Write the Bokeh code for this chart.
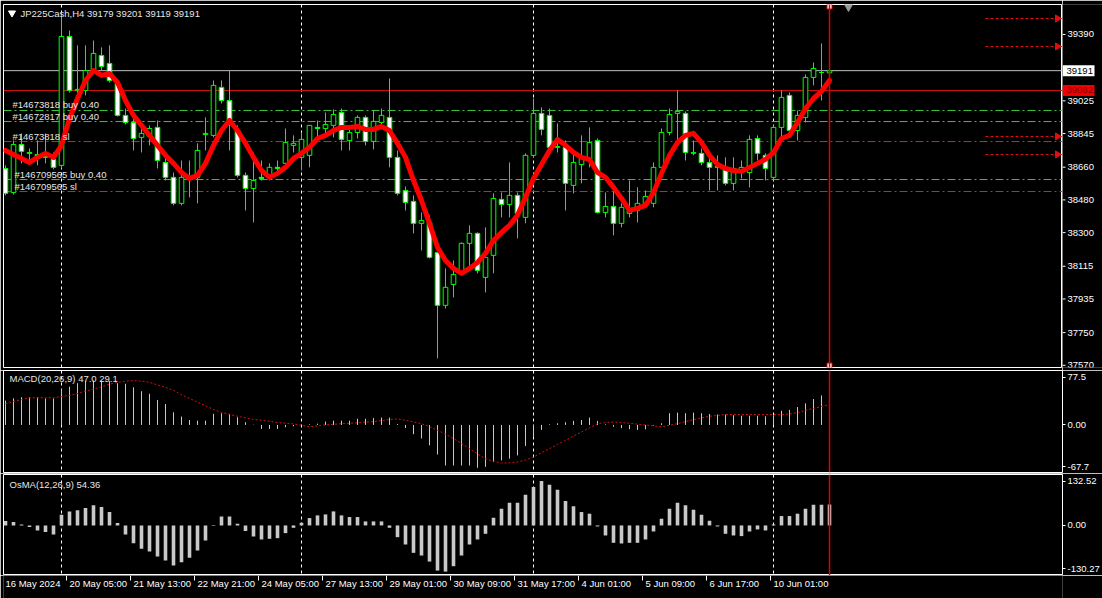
import math
from bokeh.plotting import figure
from bokeh.models import Range1d, FixedTicker, Span, Label, ColumnDataSource
from bokeh.layouts import column, row
from bokeh.embed import file_html
from bokeh.resources import INLINE
from bokeh.core.properties import value

# ---------------- data ----------------
symbol = "JP225Cash"
timeframe = "H4"

open_ = [38653, 38521, 38785, 38741, 38730, 38714, 38703, 38670, 39379, 39082,
         39082, 39192, 39275, 39231, 39121, 38945, 38906, 38824, 38829, 38879,
         38686, 38604, 38461, 38598, 38604, 38840, 38835, 39099, 39027, 38862,
         38615, 38543, 38604, 38604, 38659, 38681, 38780, 38714, 38725, 38879,
         38873, 38890, 38961, 38807, 38851, 38934, 38802, 38906, 38934, 38714,
         38532, 38472, 38351, 38356, 38191, 37900, 38015, 38076, 38241, 38296,
         38054, 38175, 38483, 38455, 38505, 38384, 38725, 38956, 38945, 38769,
         38769, 38560, 38675, 38697, 38807, 38411, 38444, 38351, 38406, 38422,
         38461, 38461, 38659, 38851, 38956, 38956, 38736, 38736, 38686, 38659,
         38653, 38571, 38642, 38631, 38818, 38725, 38604, 38879, 39055, 38862,
         38934, 39154, 39181, 39179]
high = [38670, 38807, 38846, 38763, 38807, 38846, 38741, 39511, 39412, 39330,
        39330, 39357, 39319, 39330, 39137, 38983, 38934, 38901, 38890, 38917,
        38714, 38631, 38697, 38697, 38791, 38934, 39137, 39137, 39192, 38890,
        38631, 38741, 38697, 38681, 38697, 38873, 38835, 38851, 38890, 38917,
        38961, 38978, 38983, 38890, 38945, 38945, 38972, 38983, 39148, 38752,
        38554, 38505, 38411, 38395, 38191, 38103, 38147, 38246, 38340, 38301,
        38329, 38516, 38521, 38686, 38521, 38736, 39038, 38989, 38983, 38901,
        38807, 38752, 38835, 38879, 38818, 38521, 38532, 38461, 38587, 38549,
        38532, 38686, 38873, 38983, 39082, 38967, 38807, 38763, 38714, 38725,
        38714, 38714, 38697, 38835, 38835, 38736, 38890, 39082, 39071, 38972,
        39170, 39236, 39341, 39201]
low = [38505, 38510, 38681, 38675, 38670, 38681, 38648, 38653, 39071, 39060,
       39055, 39181, 39192, 39126, 38939, 38895, 38752, 38741, 38780, 38653,
       38587, 38450, 38450, 38494, 38461, 38752, 38824, 39011, 38752, 38604,
       38422, 38356, 38587, 38587, 38631, 38659, 38741, 38642, 38659, 38824,
       38835, 38824, 38752, 38752, 38818, 38780, 38758, 38890, 38659, 38505,
       38422, 38296, 38202, 38158, 37608, 37883, 37944, 38076, 38092, 38076,
       37971, 38076, 38384, 38384, 38268, 38351, 38714, 38835, 38752, 38741,
       38422, 38516, 38571, 38659, 38406, 38384, 38285, 38329, 38384, 38356,
       38439, 38439, 38653, 38835, 38807, 38697, 38725, 38670, 38532, 38532,
       38560, 38532, 38598, 38549, 38697, 38587, 38587, 38807, 38835, 38807,
       38906, 39110, 39027, 39119]
close = [38516, 38785, 38747, 38736, 38708, 38719, 38659, 39379, 39082, 39088,
         39192, 39286, 39214, 39137, 38945, 38906, 38818, 38846, 38873, 38697,
         38604, 38461, 38604, 38593, 38752, 38846, 39110, 39027, 38917, 38615,
         38543, 38587, 38598, 38659, 38653, 38796, 38791, 38813, 38890, 38873,
         38895, 38950, 38813, 38851, 38934, 38802, 38912, 38945, 38714, 38516,
         38466, 38351, 38367, 38164, 37900, 37999, 38070, 38241, 38296, 38092,
         38164, 38488, 38455, 38505, 38406, 38725, 38956, 38868, 38769, 38774,
         38571, 38686, 38708, 38796, 38411, 38444, 38351, 38439, 38422, 38461,
         38499, 38659, 38851, 38950, 38967, 38741, 38741, 38686, 38659, 38664,
         38571, 38653, 38659, 38813, 38736, 38653, 38879, 39044, 38862, 38945,
         39154, 39203, 39181, 39191]
ma = [38752, 38730, 38708, 38686, 38714, 38736, 38714, 38780, 38928, 39038,
      39137, 39192, 39165, 39176, 39126, 39027, 38945, 38890, 38835, 38780,
      38725, 38681, 38631, 38598, 38615, 38681, 38780, 38862, 38917, 38862,
      38791, 38714, 38642, 38604, 38626, 38659, 38708, 38736, 38769, 38818,
      38835, 38862, 38879, 38879, 38884, 38868, 38868, 38884, 38862, 38791,
      38714, 38587, 38477, 38351, 38219, 38147, 38103, 38076, 38103, 38136,
      38186, 38257, 38301, 38340, 38395, 38494, 38598, 38675, 38752, 38813,
      38780, 38741, 38714, 38703, 38631, 38604, 38549, 38488, 38422, 38433,
      38450, 38521, 38626, 38725, 38796, 38835, 38846, 38796, 38725, 38675,
      38653, 38642, 38637, 38659, 38681, 38703, 38741, 38818, 38835, 38906,
      38983, 39038, 39077, 39137]
macd_main = [34.7, 37.8, 39.5, 39.5, 39.5, 37.8, 37.8, 51.4, 54.4, 59.4,
             62.3, 63.2, 63.2, 62.3, 59.4, 58.6, 53.6, 48.0, 44.3, 35.6,
             29.9, 18.0, 11.9, 7.0, 6.1, 6.1, 15.8, 16.6, 15.8, 10.9,
             3.8, 0.4, -5.7, -5.7, -5.7, -3.3, -1.8, -0.4, 0.9, 1.8,
             4.7, 6.1, 6.1, 6.1, 8.8, 8.8, 9.7, 10.5, 10.5, 1.3,
             -4.4, -13.2, -19.3, -29.0, -42.1, -57.7, -57.7, -57.7, -57.7, -61.0,
             -59.7, -52.7, -50.5, -48.0, -43.4, -29.9, -17.6, -7.0, 0.9, 2.4,
             3.8, 5.7, 7.0, 10.5, 5.7, 0.9, -2.6, -4.7, -6.1, -7.0,
             -6.1, -0.9, 2.4, 16.7, 17.6, 16.7, 17.6, 16.7, 15.7, 14.8,
             14.8, 13.8, 13.2, 13.2, 13.2, 12.3, 13.2, 20.2, 21.5, 25.5,
             30.7, 36.9, 42.0, 47.0]
macd_signal = [29.9, 33.4, 36.0, 38.6, 38.6, 38.6, 38.6, 40.4, 42.1, 44.8,
               48.3, 50.9, 54.4, 57.9, 60.6, 62.3, 63.2, 62.3, 60.6, 57.1,
               53.6, 49.2, 43.0, 37.8, 32.5, 27.2, 22.0, 18.0, 14.9, 12.3,
               10.0, 7.9, 6.6, 5.2, 3.5, 2.5, 1.4, -0.4, -2.5, -1.3,
               0.0, 0.9, 1.8, 2.4, 3.1, 4.0, 4.7, 6.1, 7.9, 8.5,
               6.6, 4.4, 1.8, -2.6, -7.6, -13.2, -19.3, -26.3, -33.8, -41.3,
               -48.1, -51.8, -54.3, -54.0, -52.7, -50.0, -45.7, -39.5, -33.8, -27.7,
               -22.0, -15.8, -10.0, -4.0, 1.8, 3.3, 4.3, 3.5, 2.4, 1.1,
               0.0, -1.3, -2.6, -0.4, 1.8, 4.8, 7.6, 10.1, 12.3, 13.6,
               14.8, 14.8, 14.8, 14.8, 14.8, 14.8, 14.8, 14.8, 15.5, 17.5,
               20.8, 23.5, 26.3, 29.1]
osma = [11.3, 8.7, 2.6, -4.4, -13.1, -17.4, -23.5, 27.8, 36.5, 39.2,
        45.2, 52.2, 47.9, 34.8, 6.1, -23.5, -46.1, -60.9, -67.9, -80.9,
        -91.4, -104.4, -95.7, -84.4, -65.3, -39.2, -1.7, 23.5, 23.5, 4.4,
        -14.8, -28.7, -36.5, -34.8, -33.1, -20.0, -6.1, 7.0, 19.1, 26.1,
        28.7, 36.5, 26.1, 21.8, 21.8, 10.4, 10.4, 10.4, -6.1, -30.5,
        -49.6, -71.3, -78.3, -94.0, -117.5, -120.1, -106.1, -78.3, -49.6, -36.5,
        -21.8, 20.0, 43.5, 59.2, 59.2, 80.0, 100.1, 115.7, 106.1, 93.1,
        63.5, 49.6, 34.8, 30.5, -2.6, -26.1, -45.2, -47.0, -45.2, -45.2,
        -36.5, -15.7, 17.4, 43.5, 59.2, 52.2, 40.9, 27.8, 12.2, -2.6,
        -21.8, -26.1, -27.8, -15.7, -10.4, -13.1, 2.6, 24.4, 24.4, 30.5,
        43.5, 53.9, 53.9, 54.36]

time_labels = ["16 May 2024", "20 May 05:00", "21 May 13:00", "22 May 21:00",
               "24 May 05:00", "27 May 13:00", "29 May 01:00", "30 May 09:00",
               "31 May 17:00", "4 Jun 01:00", "5 Jun 09:00", "6 Jun 17:00",
               "10 Jun 01:00"]
time_label_bars = [0, 8, 16, 24, 32, 40, 48, 56, 64, 72, 80, 88, 96]
separator_bars = [7, 37, 66, 96]

price_ticks = [39390, 39025, 38845, 38660, 38480, 38300, 38115, 37935, 37750, 37570]
price_min, price_max = 37558, 39555
macd_min, macd_max = -67.7, 77.5
osma_min, osma_max = -130.27, 132.52

bid_price = 39191
hline_price = 39082
order_prices = [38972, 38911, 38801, 38592, 38526]
order_texts = ["#14673818 buy 0.40", "#14672817 buy 0.40", "#14673818 sl",
               "#146709565 buy 0.40", "#146709565 sl"]
order_kinds = ["buy", "buy", "sl", "buy", "sl"]
arrow_prices = [39478, 39324, 38829, 38730]

# ---------------- layout constants ----------------
W = 1102
BL = 3          # left border
BR = 40         # price scale width
FRAME_W = W - BL - BR
X0 = -0.25
X1 = X0 + FRAME_W / 8.0
xr = Range1d(X0, X1)
FONT = "Liberation Sans"
FS = "9.5px"
GREEN = "#00FF00"
TXT = "#E6E6E6"


def px_x(page_x):
    return X0 + (page_x - BL) / 8.0


def base_fig(width, height, yr, top, bottom, right, axis):
    p = figure(width=width, height=height, x_range=xr, y_range=yr,
               output_backend="svg", toolbar_location=None,
               x_axis_location=None, y_axis_location=("right" if axis else None),
               background_fill_color="black", border_fill_color="black",
               min_border_left=BL, min_border_right=right,
               min_border_top=top, min_border_bottom=bottom)
    p.outline_line_color = "white"
    p.outline_line_width = 1
    p.grid.visible = False
    if axis:
        ax = p.yaxis[0]
        ax.axis_line_color = None
        ax.major_tick_line_color = "white"
        ax.major_tick_out = 3
        ax.major_tick_in = 0
        ax.minor_tick_line_color = None
        ax.major_label_text_color = "white"
        ax.major_label_text_font = FONT
        ax.major_label_text_font_size = FS
        ax.major_label_standoff = 2
    for b in separator_bars:
        p.add_layout(Span(location=b, dimension="height", line_color="white",
                          line_dash="3 3", line_width=1, level="underlay"))
    p.add_layout(Span(location=len(close) - 1, dimension="height",
                      line_color="#E00000", line_width=1.5))
    return p


idx = list(range(len(close)))

# ---------------- main price panel ----------------
MAIN_TOP = 4
MAIN_H = 363
MAIN_FIG_H = MAIN_TOP + MAIN_H + 3
yr_main = Range1d(price_min, price_max)
p1 = base_fig(W - BR, MAIN_FIG_H, yr_main, MAIN_TOP, 3, 0, False)
s_main = (price_max - price_min) / MAIN_H


def main_y(page_y):
    return price_max - (page_y - MAIN_TOP) * s_main


p1.add_layout(Span(location=bid_price, dimension="width", line_color="#C0C0C0",
                   line_width=1, level="underlay"))
p1.add_layout(Span(location=hline_price, dimension="width", line_color="#D01010",
                   line_width=1, level="underlay"))
for pr, kind in zip(order_prices, order_kinds):
    col = "#3CC83C" if kind == "buy" else "#E02020"
    p1.add_layout(Span(location=pr, dimension="width", line_color=col,
                       line_dash="8 3 2 3", line_width=1, level="underlay"))

src = ColumnDataSource(dict(
    x=idx, o=open_, h=high, l=low, c=close,
    top=[max(o, c) for o, c in zip(open_, close)],
    bot=[min(o, c) for o, c in zip(open_, close)],
    fill=["black" if c > o else "white" for o, c in zip(open_, close)],
))
p1.segment(x0="x", y0="l", x1="x", y1="h", source=src, line_color=GREEN, line_width=1)
p1.vbar(x="x", width=0.58, top="top", bottom="bot", source=src,
        fill_color="fill", line_color=GREEN, line_width=1)
p1.line(idx, ma, line_color="#FF0000", line_width=5, line_join="round", line_cap="round")

# right-side dashed arrows
ax0 = px_x(985)
ax1 = px_x(1057)
p1.segment(x0=[ax0] * len(arrow_prices), y0=arrow_prices, x1=[ax1] * len(arrow_prices),
           y1=arrow_prices, line_color="#E01010", line_dash="3 2", line_width=1)
p1.scatter(x=[ax1] * len(arrow_prices), y=arrow_prices, marker="triangle",
           angle=-math.pi / 2, size=7, fill_color="#E01010", line_color="#E01010")

# red vertical line end markers, chart shift marker
p1.scatter(x=[idx[-1], idx[-1]], y=[main_y(6), main_y(365)], marker="square", size=5,
           fill_color="white", line_color="#E00000")
p1.scatter(x=[px_x(848)], y=[price_max], marker="inverted_triangle", size=12,
           fill_color="#9A9A9A", line_color="#9A9A9A")

# header
p1.scatter(x=[px_x(11.5)], y=[main_y(12.5)], marker="inverted_triangle", size=7,
           fill_color="white", line_color="white")
header = f"{symbol},{timeframe}  {open_[-1]} {high[-1]} {low[-1]} {close[-1]}"
p1.add_layout(Label(x=px_x(20), y=main_y(12.5), text=header, text_font=FONT,
                    text_font_size=FS, text_color=TXT, text_baseline="middle",
                    text_align="left"))

# order labels
for i, (pr, t) in enumerate(zip(order_prices, order_texts)):
    lx = px_x(12) if i < 3 else px_x(14)
    p1.add_layout(Label(x=lx, y=pr, text=t, text_font=FONT, text_font_size=FS,
                        text_color=TXT, text_baseline="bottom", text_align="left"))

# ---------------- main price scale (strip sharing the price range) ----------------
ps = figure(width=BR, height=MAIN_FIG_H, x_range=Range1d(0, BR), y_range=yr_main,
            output_backend="svg", toolbar_location=None,
            x_axis_location=None, y_axis_location=None,
            background_fill_color="black", border_fill_color="black",
            min_border_left=0, min_border_right=0, min_border_top=MAIN_TOP, min_border_bottom=3)
ps.outline_line_color = None
ps.grid.visible = False
n_t = len(price_ticks)
ps.segment(x0=[0] * n_t, y0=price_ticks, x1=[3] * n_t, y1=price_ticks, line_color="white")
ps.text(x=[5] * n_t, y=price_ticks, text=[str(t) for t in price_ticks], text_color="white",
        text_font=value(FONT), text_font_size=FS, text_align="left", text_baseline="middle")
box_h = 11 * s_main
box_prices = [bid_price, hline_price]
ps.quad(left=[0, 0], right=[32, 32],
        top=[p + box_h / 2 for p in box_prices], bottom=[p - box_h / 2 for p in box_prices],
        fill_color=["white", "#F00000"], line_color=None)
ps.text(x=[4, 4], y=box_prices, text=[str(p) for p in box_prices],
        text_color=["black", "#8A0000"], text_font=value(FONT), text_font_size=FS,
        text_align="left", text_baseline="middle")

# ---------------- MACD panel ----------------
MACD_H = 102
p2 = base_fig(W, MACD_H + 1, Range1d(macd_min, macd_max), 0, 1, BR, True)
s_macd = (macd_max - macd_min) / MACD_H
mt = [round(macd_max - 6.7 * s_macd, 3), 0.0, round(macd_min + 6.0 * s_macd, 3)]
p2.yaxis[0].ticker = FixedTicker(ticks=mt)
p2.yaxis[0].major_label_overrides = {mt[0]: f"{macd_max}", mt[1]: "0.00", mt[2]: f"{macd_min}"}
p2.segment(x0=idx, y0=[0] * len(idx), x1=idx, y1=macd_main, line_color="#C8C8C8", line_width=1)
p2.line(idx, macd_signal, line_color="#D01010", line_width=1, line_dash="2 2")
p2.add_layout(Label(x=px_x(9), y=macd_max - 8 * s_macd,
                    text=f"MACD(20,26,9) {macd_main[-1]:.1f} {macd_signal[-1]:.1f}",
                    text_font=FONT, text_font_size=FS, text_color=TXT,
                    text_baseline="middle", text_align="left"))

# ---------------- OsMA panel ----------------
OSMA_H = 101
p3 = base_fig(W, OSMA_H + 1, Range1d(osma_min, osma_max), 1, 0, BR, True)
s_osma = (osma_max - osma_min) / OSMA_H
ot = [round(osma_max - 6.7 * s_osma, 3), 0.0, round(osma_min + 6.7 * s_osma, 3)]
p3.yaxis[0].ticker = FixedTicker(ticks=ot)
p3.yaxis[0].major_label_overrides = {ot[0]: f"{osma_max:.2f}", ot[1]: "0.00", ot[2]: f"{osma_min:.2f}"}
p3.vbar(x=idx, width=0.45, top=[max(v, 0) for v in osma], bottom=[min(v, 0) for v in osma],
        fill_color="#C8C8C8", line_color=None)
p3.add_layout(Label(x=px_x(9), y=osma_max - 10 * s_osma,
                    text=f"OsMA(12,26,9) {osma[-1]:.2f}",
                    text_font=FONT, text_font_size=FS, text_color=TXT,
                    text_baseline="middle", text_align="left"))

# ---------------- time scale ----------------
TIME_H = 598 - MAIN_FIG_H - (MACD_H + 1) - (OSMA_H + 1)
pt = figure(width=W, height=TIME_H, x_range=xr, y_range=Range1d(0, TIME_H),
            output_backend="svg", toolbar_location=None,
            x_axis_location=None, y_axis_location=None,
            background_fill_color="black", border_fill_color="black",
            min_border_left=BL, min_border_right=BR, min_border_top=0, min_border_bottom=0)
pt.outline_line_color = None
pt.grid.visible = False
tick_x = [b - 0.375 for b in time_label_bars[1:]]
pt.segment(x0=tick_x, y0=[TIME_H] * len(tick_x), x1=tick_x, y1=[TIME_H - 5] * len(tick_x),
           line_color="white", line_width=1)
pt.text(x=time_label_bars, y=[TIME_H - 8] * len(time_labels), text=time_labels,
        text_color="white", text_font=value(FONT), text_font_size=FS,
        text_align="left", text_baseline="middle")

layout = column(row(p1, ps, spacing=0), p2, p3, pt, spacing=0)
html = file_html(layout, INLINE, title="JP225Cash,H4")
html = html.replace("<body>", '<body style="background-color:#000000;">', 1)
open("out.html", "w").write(html)
